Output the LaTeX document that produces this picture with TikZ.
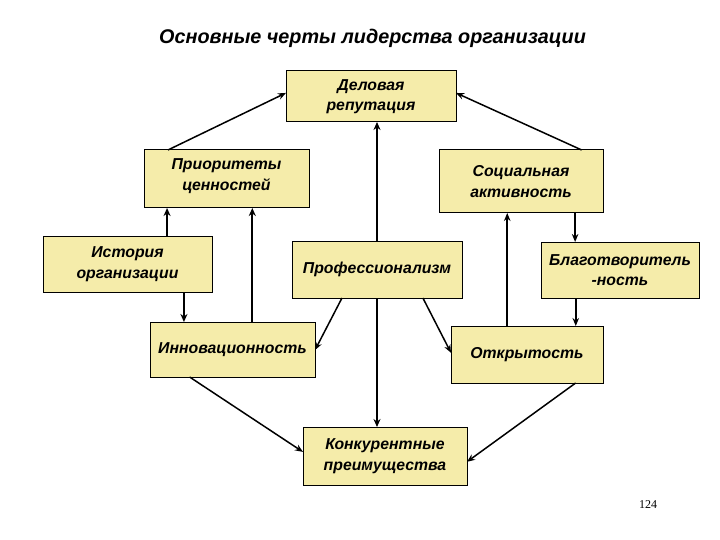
\documentclass[tikz,border=0pt]{standalone}
\usepackage{fontspec}
\setmainfont{Liberation Sans}
\newfontfamily\numfont{Liberation Serif}
\usetikzlibrary{calc,arrows.meta}
\definecolor{boxfill}{RGB}{245,236,170}
\tikzset{
  box/.style={draw=black, line width=1pt, fill=boxfill, inner sep=0pt, outer sep=0pt,
    align=center, font=\fontsize{15.8}{20.5}\selectfont\bfseries\itshape},
  arr/.style={line width=1.5pt, -{Stealth[length=8pt,width=6.5pt]}},
  arrthick/.style={line width=2.2pt, -{Stealth[length=8pt,width=7pt]}}
}
\begin{document}
\begin{tikzpicture}[x=1pt,y=-1pt]
\useasboundingbox (0,0) rectangle (720,540);
\fill[white] (0,0) rectangle (720,540);
\node[font=\fontsize{19.8}{22}\selectfont\bfseries\itshape] (title) at (372.5,38) {Основные черты лидерства организации};
\node[box, minimum width=170, minimum height=51] (del) at (371,96.5) {Деловая\\репутация};
\node[box, minimum width=165, minimum height=58, text depth=9pt] (prio) at (226.5,179) {Приоритеты\\ценностей};
\node[box, minimum width=164, minimum height=63] (soc) at (521,181.5) {Социальная\\активность};
\node[box, minimum width=169, minimum height=56] (hist) at (127.5,264) {История\\организации};
\node[box, minimum width=170, minimum height=57] (prof) at (377,269.5) {Профессионализм};
\node[box, minimum width=158, minimum height=56] (blago) at (620,270) {Благотворитель\\-ность};
\node[box, minimum width=165, minimum height=55] (innov) at (232.5,349.5) {Инновационность};
\node[box, minimum width=152, minimum height=57] (open) at (527,354.5) {Открытость};
\node[box, minimum width=164, minimum height=58] (konk) at (385,456) {Конкурентные\\преимущества};
\node[font=\fontsize{12}{14}\selectfont\numfont] (page) at (648,505) {124};
% connectors
\draw[arr] ($(prio.north west)!0.145!(prio.north east)$) -- ($(del.north west)!0.43!(del.south west)$);
\draw[arr] ($(soc.north west)!0.87!(soc.north east)$) -- ($(del.north east)!0.43!(del.south east)$);
\draw[arrthick] (prof.north) -- (prof.north |- del.south);
\draw[arrthick] (prof.south) -- (prof.south |- konk.north);
\draw[arrthick] ($(hist.north west)!0.734!(hist.north east)$) coordinate (a1) -- (a1 |- prio.south);
\draw[arrthick] ($(innov.north west)!0.62!(innov.north east)$) coordinate (a2) -- (a2 |- prio.south);
\draw[arrthick] ($(hist.south west)!0.834!(hist.south east)$) coordinate (a3) -- (a3 |- innov.north);
\draw[arr] ($(prof.south west)!0.294!(prof.south east)$) -- ($(innov.north east)!0.51!(innov.south east)$);
\draw[arr] ($(prof.south west)!0.77!(prof.south east)$) -- ($(open.north west)!0.47!(open.south west)$);
\draw[arr] ($(open.north west)!0.37!(open.north east)$) coordinate (a4) -- (a4 |- soc.south);
\draw[arr] ($(soc.south west)!0.83!(soc.south east)$) coordinate (a5) -- (a5 |- blago.north);
\draw[arr] ($(blago.south west)!0.22!(blago.south east)$) coordinate (a6) -- (a6 |- open.north);
\draw[arr] ($(innov.south west)!0.24!(innov.south east)$) -- ($(konk.north west)!0.43!(konk.south west)$);
\draw[arr] ($(open.south west)!0.82!(open.south east)$) -- ($(konk.north east)!0.6!(konk.south east)$);
\end{tikzpicture}
\end{document}
